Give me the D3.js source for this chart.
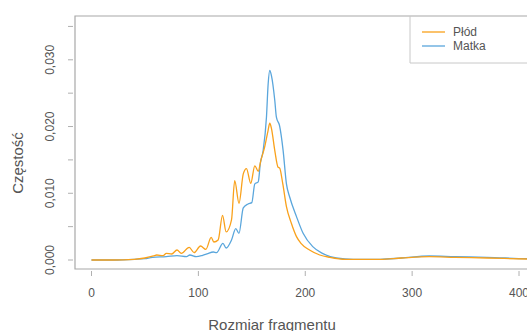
<!DOCTYPE html>
<html>
<head>
<meta charset="utf-8">
<script src="https://cdn.jsdelivr.net/npm/d3@7/dist/d3.min.js"></script>
<style>
  body { margin: 0; background: #fff; }
  text { font-family: "Liberation Sans", Arial, sans-serif; fill: #555; }
</style>
</head>
<body>
<div id="chart"></div>
<script>
// Fragment size (x) and density (y)
const matkaX = [0, 20, 40, 50, 57, 70, 80, 89, 92, 98, 104, 108, 114, 117, 123, 126, 131, 135, 138,
  142, 146.5, 150, 152.8, 156, 158, 160.6, 163.7, 165.3, 166.8, 168.4, 171.5, 173, 176, 179.3,
  182.4, 185.5, 191.8, 198, 207, 216, 229, 245, 270, 290, 316, 340, 370, 407, 425];
const matkaY = [0, 0, 0.0001, 0.0002, 0.0004, 0.0005, 0.00065, 0.0005, 0.00075, 0.0005, 0.0007, 0.0009,
  0.0012, 0.0011, 0.0025, 0.0018, 0.003, 0.0047, 0.004, 0.0078, 0.0084, 0.0086, 0.0114, 0.0117,
  0.0145, 0.0164, 0.0214, 0.0264, 0.0284, 0.0276, 0.0239, 0.0214, 0.0201, 0.0164, 0.0114, 0.0094,
  0.0065, 0.004, 0.002, 0.001, 0.0003, 0.0001, 0.0001, 0.0003, 0.0006, 0.0005, 0.0004, 0.0002, 0.00015];

const plodX = [0, 20, 40, 50, 58, 61, 67, 70, 75, 80, 84, 91.4, 96, 102, 107, 112, 114.5, 118.5, 122.6,
  126, 131, 134, 138, 142, 145, 149, 152.8, 156, 158.4, 162, 165.2, 166.8, 168.4, 171.5, 174.6, 176,
  179, 182.4, 187, 191.8, 196, 204, 213.6, 223, 238, 270, 290, 316, 340, 370, 407, 425];
const plodY = [0, 0, 0.0001, 0.0003, 0.0006, 0.00075, 0.00065, 0.001, 0.0009, 0.0015, 0.001, 0.0019,
  0.0011, 0.0021, 0.0016, 0.0034, 0.0027, 0.003, 0.0067, 0.0042, 0.006, 0.0119, 0.0085, 0.0129,
  0.0137, 0.0115, 0.0141, 0.0133, 0.0149, 0.0169, 0.0194, 0.0205, 0.0197, 0.0164, 0.0139, 0.0138,
  0.0114, 0.008, 0.0055, 0.0035, 0.0025, 0.0015, 0.00075, 0.0004, 0.0001, 0.0001, 0.0003, 0.0005,
  0.0004, 0.0003, 0.00015, 0.0001];

const xTicks = [0, 100, 200, 300, 400];
const yTicks = [0, 0.005, 0.01, 0.015, 0.02, 0.025, 0.03, 0.035];
const yLabelTicks = [0, 0.01, 0.02, 0.03];

const seriesNames = ['Płód', 'Matka'];
const seriesColors = ['#f9a11b', '#5aa6dc'];

const W = 527, H = 331;
const box = { left: 75, top: 16, right: 560, bottom: 269 };

const svg = d3.select('#chart').append('svg')
  .attr('width', W)
  .attr('height', H);

const x = d3.scaleLinear().domain([0, 400]).range([91.5, 519]);
const y = d3.scaleLinear().domain([0, 0.03]).range([260, 59.8]);

const locale = d3.formatLocale({ decimal: ',', thousands: ' ', grouping: [3], currency: ['', ''] });
const fmt = locale.format('.3f');

svg.append('clipPath').attr('id', 'clip')
  .append('rect')
  .attr('x', box.left).attr('y', box.top)
  .attr('width', box.right - box.left).attr('height', box.bottom - box.top);

// frame: left, top, bottom
svg.append('path')
  .attr('d', `M${box.right},${box.top}H${box.left}V${box.bottom}H${box.right}`)
  .attr('fill', 'none')
  .attr('stroke', '#a8a8a8')
  .attr('stroke-width', 1.2);

// y ticks
svg.selectAll('.ytick').data(yTicks).join('line')
  .attr('class', 'ytick')
  .attr('x1', 68).attr('x2', 73)
  .attr('y1', d => y(d)).attr('y2', d => y(d))
  .attr('stroke', '#b0b0b0');

svg.selectAll('.ylab').data(yLabelTicks).join('text')
  .attr('class', 'ylab')
  .attr('transform', d => `translate(54,${y(d)}) rotate(-90)`)
  .attr('text-anchor', 'middle')
  .attr('font-size', 12)
  .text(d => fmt(d));

// x ticks
svg.selectAll('.xtick').data(xTicks).join('line')
  .attr('class', 'xtick')
  .attr('x1', d => x(d)).attr('x2', d => x(d))
  .attr('y1', 271).attr('y2', 276)
  .attr('stroke', '#b0b0b0');

svg.selectAll('.xlab').data(xTicks).join('text')
  .attr('class', 'xlab')
  .attr('x', d => x(d))
  .attr('y', 297)
  .attr('text-anchor', 'middle')
  .attr('font-size', 12)
  .text(d => d);

// axis titles
svg.append('text')
  .attr('x', 272).attr('y', 330)
  .attr('text-anchor', 'middle')
  .attr('font-size', 15)
  .text('Rozmiar fragmentu');

svg.append('text')
  .attr('transform', `translate(23,163) rotate(-90)`)
  .attr('text-anchor', 'middle')
  .attr('font-size', 15)
  .text('Częstość');

// lines
const line = d3.line()
  .x(d => x(d[0]))
  .y(d => y(d[1]))
  .curve(d3.curveMonotoneX);

const plot = svg.append('g').attr('clip-path', 'url(#clip)');

plot.append('path')
  .datum(d3.zip(matkaX, matkaY))
  .attr('fill', 'none')
  .attr('stroke', seriesColors[1])
  .attr('stroke-width', 1.3)
  .attr('d', line);

plot.append('path')
  .datum(d3.zip(plodX, plodY))
  .attr('fill', 'none')
  .attr('stroke', seriesColors[0])
  .attr('stroke-width', 1.3)
  .attr('d', line);

// legend
const lg = svg.append('g');
lg.append('path')
  .attr('d', `M410,${box.top}V63H${W + 5}`)
  .attr('fill', 'none')
  .attr('stroke', '#c8c8c8');

seriesNames.forEach((name, i) => {
  const ly = 32 + i * 14;
  lg.append('line')
    .attr('x1', 422).attr('x2', 445)
    .attr('y1', ly).attr('y2', ly)
    .attr('stroke', seriesColors[i])
    .attr('stroke-width', 1.3);
  lg.append('text')
    .attr('x', 453).attr('y', ly + 4)
    .attr('font-size', 12)
    .text(name);
});
</script>
</body>
</html>
